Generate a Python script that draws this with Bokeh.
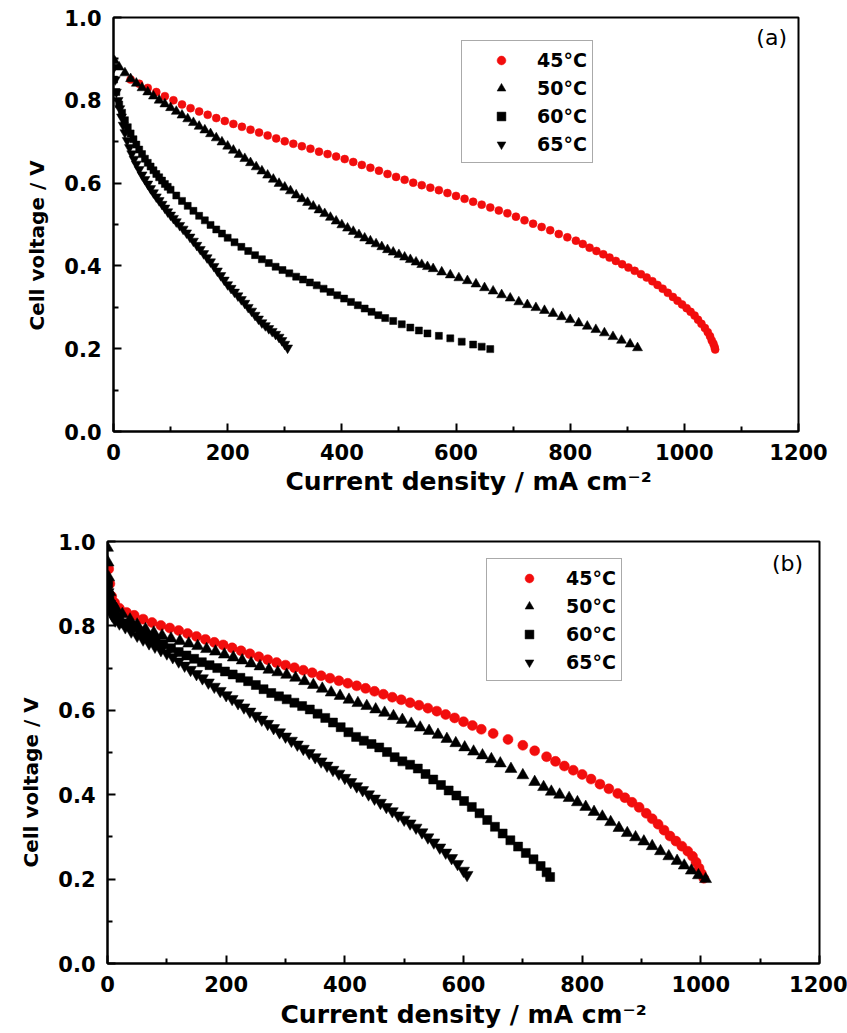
from bokeh.plotting import figure
from bokeh.layouts import column, row
from bokeh.models import Range1d, FixedTicker, PrintfTickFormatter, Label, Title, Spacer
from bokeh.embed import file_html
from bokeh.resources import INLINE

# ---------------- data ----------------
series_labels = ["45°C", "50°C", "60°C", "65°C"]
x_ticks = [0, 200, 400, 600, 800, 1000, 1200]
y_ticks = [0.0, 0.2, 0.4, 0.6, 0.8, 1.0]

# Panel (a)
a45_x = [30, 45, 60, 75, 90, 105, 120, 135, 150, 165, 180, 195, 210, 225, 240, 255, 270, 285, 300, 315,
         330, 345, 360, 375, 390, 405, 420, 435, 450, 465, 480, 495, 510, 525, 540, 555, 570, 585, 600, 615,
         630, 645, 660, 675, 690, 705, 720, 735, 750, 765, 780, 795, 810, 822, 834, 846, 858, 869, 880, 891,
         902, 913, 924, 934, 944, 953, 962, 971, 980, 988, 996, 1004, 1011, 1018, 1024, 1030, 1036, 1041,
         1045, 1048, 1051, 1053, 1054]
a45_y = [0.850, 0.840, 0.830, 0.820, 0.810, 0.800, 0.790, 0.781, 0.773, 0.765, 0.757, 0.750, 0.743, 0.736,
         0.729, 0.722, 0.715, 0.708, 0.701, 0.695, 0.689, 0.683, 0.676, 0.670, 0.664, 0.658, 0.651, 0.644,
         0.637, 0.630, 0.622, 0.615, 0.608, 0.601, 0.595, 0.589, 0.583, 0.576, 0.569, 0.562, 0.555, 0.548,
         0.541, 0.534, 0.527, 0.519, 0.510, 0.502, 0.494, 0.486, 0.477, 0.469, 0.461, 0.453, 0.444, 0.436,
         0.428, 0.420, 0.412, 0.404, 0.396, 0.388, 0.380, 0.372, 0.363, 0.354, 0.345, 0.335, 0.325, 0.316,
         0.307, 0.298, 0.289, 0.280, 0.270, 0.260, 0.250, 0.240, 0.230, 0.220, 0.212, 0.204, 0.198]

a50_x = [2, 10, 20, 30, 40, 50, 60, 70, 80, 90, 100, 110, 120, 130, 140, 150, 160, 170, 180, 190, 200,
         210, 220, 230, 240, 250, 260, 270, 280, 290, 300, 310, 320, 330, 340, 350, 360, 370, 380, 390, 400,
         410, 420, 430, 440, 450, 460, 470, 480, 490, 500, 510, 520, 530, 540, 550, 560, 575, 590, 605, 620,
         635, 650, 665, 680, 695, 710, 725, 740, 755, 770, 785, 800, 815, 830, 845, 860, 875, 890, 905, 918]
a50_y = [0.895, 0.880, 0.866, 0.852, 0.841, 0.830, 0.820, 0.810, 0.800, 0.791, 0.782, 0.773, 0.764, 0.755,
         0.746, 0.737, 0.728, 0.719, 0.709, 0.699, 0.689, 0.679, 0.669, 0.659, 0.649, 0.639, 0.629, 0.619,
         0.609, 0.599, 0.590, 0.581, 0.571, 0.562, 0.553, 0.544, 0.535, 0.526, 0.517, 0.508, 0.499, 0.491,
         0.483, 0.475, 0.467, 0.460, 0.453, 0.446, 0.439, 0.433, 0.427, 0.421, 0.415, 0.409, 0.403, 0.398,
         0.393, 0.385, 0.378, 0.371, 0.364, 0.356, 0.347, 0.339, 0.330, 0.322, 0.313, 0.306, 0.299, 0.292,
         0.285, 0.277, 0.270, 0.262, 0.254, 0.246, 0.238, 0.229, 0.220, 0.211, 0.202]

a60_x = [1, 5, 10, 15, 20, 25, 30, 35, 40, 45, 50, 55, 60, 65, 70, 75, 80, 85, 90, 95, 100, 110, 120, 130,
         140, 150, 160, 170, 180, 190, 200, 212, 224, 236, 248, 260, 272, 284, 296, 308, 320, 332, 344, 356,
         368, 380, 392, 404, 416, 428, 440, 452, 464, 476, 490, 505, 520, 535, 550, 570, 590, 610, 630, 645, 660]
a60_y = [0.850, 0.820, 0.790, 0.770, 0.752, 0.735, 0.720, 0.706, 0.693, 0.681, 0.670, 0.659, 0.649, 0.640,
         0.631, 0.622, 0.614, 0.606, 0.598, 0.591, 0.584, 0.570, 0.557, 0.545, 0.533, 0.521, 0.510, 0.499,
         0.488, 0.478, 0.468, 0.457, 0.446, 0.436, 0.426, 0.416, 0.407, 0.398, 0.390, 0.382, 0.374, 0.367,
         0.360, 0.353, 0.345, 0.337, 0.329, 0.321, 0.313, 0.305, 0.297, 0.289, 0.281, 0.274, 0.267, 0.259,
         0.251, 0.244, 0.237, 0.231, 0.225, 0.217, 0.210, 0.205, 0.199]

a65_x = [1, 3, 5, 8, 11, 14, 17, 20, 24, 28, 32, 36, 40, 45, 50, 55, 60, 65, 70, 75, 80, 85, 90, 95, 100,
         105, 110, 116, 122, 128, 134, 140, 146, 152, 158, 164, 170, 176, 182, 188, 194, 200, 206, 212, 218,
         224, 230, 236, 242, 248, 254, 260, 266, 272, 278, 284, 290, 295, 300, 305]
a65_y = [0.880, 0.850, 0.820, 0.800, 0.780, 0.760, 0.740, 0.722, 0.703, 0.686, 0.671, 0.658, 0.646, 0.633,
         0.620, 0.609, 0.598, 0.587, 0.577, 0.567, 0.558, 0.549, 0.540, 0.531, 0.523, 0.515, 0.507, 0.498,
         0.489, 0.480, 0.470, 0.460, 0.450, 0.440, 0.430, 0.420, 0.410, 0.399, 0.388, 0.377, 0.366, 0.355,
         0.346, 0.337, 0.328, 0.319, 0.310, 0.300, 0.291, 0.281, 0.272, 0.263, 0.256, 0.249, 0.242, 0.235,
         0.228, 0.220, 0.211, 0.202]

# Panel (b)
b45_x = [2, 4, 7, 12, 20, 32, 45, 60, 75, 90, 105, 120, 135, 150, 165, 180, 195, 210, 225, 240, 255, 270,
         285, 300, 315, 330, 345, 360, 375, 390, 405, 420, 435, 450, 465, 480, 495, 510, 525, 540, 555, 570,
         585, 600, 615, 630, 650, 675, 700, 720, 740, 755, 770, 785, 800, 815, 830, 845, 860, 872, 884, 896,
         908, 918, 928, 938, 948, 958, 968, 978, 986, 992, 997, 1001, 1005]
b45_y = [0.935, 0.900, 0.870, 0.855, 0.842, 0.832, 0.825, 0.816, 0.808, 0.801, 0.795, 0.789, 0.782, 0.775,
         0.768, 0.761, 0.755, 0.748, 0.741, 0.734, 0.727, 0.720, 0.713, 0.707, 0.701, 0.695, 0.689, 0.682,
         0.676, 0.670, 0.664, 0.658, 0.652, 0.645, 0.638, 0.631, 0.625, 0.618, 0.612, 0.605, 0.598, 0.590,
         0.582, 0.573, 0.564, 0.555, 0.545, 0.531, 0.517, 0.504, 0.490, 0.479, 0.468, 0.458, 0.448, 0.437,
         0.425, 0.414, 0.403, 0.393, 0.382, 0.370, 0.356, 0.343, 0.330, 0.316, 0.302, 0.290, 0.278, 0.266,
         0.254, 0.240, 0.226, 0.213, 0.202]

b50_x = [0, 1, 2, 4, 8, 15, 25, 38, 50, 64, 78, 92, 107, 122, 137, 152, 167, 182, 197, 212, 227, 242, 257,
         272, 287, 302, 317, 332, 347, 362, 377, 392, 407, 422, 437, 452, 467, 482, 497, 512, 527, 542, 557,
         572, 587, 602, 617, 632, 647, 662, 680, 700, 720, 735, 748, 762, 778, 792, 806, 820, 834, 848, 862,
         876, 890, 904, 918, 932, 946, 960, 972, 984, 996, 1008]
b50_y = [0.985, 0.950, 0.915, 0.880, 0.855, 0.840, 0.828, 0.815, 0.803, 0.792, 0.784, 0.777, 0.770, 0.764,
         0.758, 0.752, 0.745, 0.739, 0.732, 0.725, 0.718, 0.711, 0.704, 0.696, 0.690, 0.684, 0.677, 0.669,
         0.660, 0.651, 0.642, 0.634, 0.625, 0.617, 0.610, 0.602, 0.594, 0.586, 0.577, 0.568, 0.559, 0.551,
         0.542, 0.532, 0.522, 0.512, 0.502, 0.493, 0.484, 0.474, 0.461, 0.446, 0.430, 0.418, 0.407, 0.400,
         0.392, 0.382, 0.371, 0.359, 0.348, 0.335, 0.321, 0.309, 0.299, 0.289, 0.278, 0.266, 0.254, 0.243,
         0.232, 0.220, 0.209, 0.200]

b60_x = [1, 3, 6, 12, 20, 30, 42, 55, 68, 81, 94, 107, 120, 133, 146, 159, 172, 185, 198, 211, 224, 237,
         250, 263, 276, 289, 302, 315, 328, 341, 354, 367, 380, 393, 406, 419, 432, 445, 458, 471, 484, 497,
         510, 523, 536, 549, 562, 575, 588, 601, 614, 627, 640, 653, 666, 679, 692, 705, 718, 730, 740, 746]
b60_y = [0.900, 0.870, 0.850, 0.830, 0.817, 0.806, 0.797, 0.787, 0.776, 0.766, 0.757, 0.747, 0.738, 0.730,
         0.722, 0.714, 0.707, 0.700, 0.692, 0.685, 0.677, 0.669, 0.660, 0.650, 0.641, 0.633, 0.626, 0.618,
         0.610, 0.602, 0.592, 0.582, 0.571, 0.560, 0.548, 0.537, 0.528, 0.520, 0.512, 0.501, 0.489, 0.479,
         0.471, 0.462, 0.449, 0.436, 0.423, 0.410, 0.398, 0.385, 0.371, 0.356, 0.340, 0.324, 0.308, 0.292,
         0.277, 0.262, 0.247, 0.231, 0.216, 0.205]

b65_x = [1, 4, 8, 13, 20, 30, 40, 50, 60, 70, 80, 90, 100, 110, 120, 130, 140, 150, 160, 170, 180, 190,
         200, 210, 220, 230, 240, 250, 260, 270, 280, 290, 300, 310, 320, 330, 340, 350, 360, 370, 380, 390,
         400, 410, 420, 430, 440, 450, 460, 470, 480, 490, 500, 510, 520, 530, 540, 550, 560, 570, 580, 590,
         600, 606]
b65_y = [0.880, 0.840, 0.825, 0.813, 0.806, 0.797, 0.787, 0.777, 0.768, 0.759, 0.751, 0.743, 0.735, 0.726,
         0.716, 0.706, 0.696, 0.686, 0.676, 0.666, 0.656, 0.646, 0.636, 0.627, 0.617, 0.607, 0.597, 0.587,
         0.578, 0.568, 0.558, 0.548, 0.538, 0.528, 0.519, 0.509, 0.499, 0.489, 0.479, 0.469, 0.459, 0.450,
         0.440, 0.430, 0.420, 0.411, 0.401, 0.391, 0.381, 0.371, 0.361, 0.351, 0.341, 0.332, 0.322, 0.311,
         0.299, 0.287, 0.275, 0.263, 0.250, 0.236, 0.220, 0.210]

# ---------------- styling ----------------
FONT = "DejaVu Sans"
RED = "#f20d0d"
BLACK = "#000000"


def make_panel(data, tag, width, height, borders, legend_loc, legend_glyph_w, legend_standoff, sizes,
               xlab, ylab, tag_pos):
    left, right, top, bottom = borders
    p = figure(width=width, height=height, output_backend="svg", toolbar_location=None,
               x_range=Range1d(0, 1200), y_range=Range1d(0, 1.0),
               min_border_left=left, min_border_right=right,
               min_border_top=top, min_border_bottom=bottom)
    p.background_fill_color = "white"
    p.border_fill_color = "white"
    p.outline_line_color = BLACK
    p.outline_line_width = 2
    p.grid.visible = False

    markers = ["circle", "triangle", "square", "inverted_triangle"]
    colors = [RED, BLACK, BLACK, BLACK]
    for (xs, ys), lab, mk, col, sz in zip(data, series_labels, markers, colors, sizes):
        p.scatter(xs, ys, marker=mk, size=sz, fill_color=col, line_color=col,
                  line_width=0.5, legend_label=lab)

    # axes
    p.xaxis.ticker = FixedTicker(ticks=x_ticks, minor_ticks=[100, 300, 500, 700, 900, 1100])
    p.yaxis.ticker = FixedTicker(ticks=y_ticks, minor_ticks=[0.1, 0.3, 0.5, 0.7, 0.9])
    p.yaxis.formatter = PrintfTickFormatter(format="%.1f")
    for ax in (p.xaxis[0], p.yaxis[0]):
        ax.axis_line_width = 2
        ax.axis_line_color = BLACK
        ax.major_tick_in = 8
        ax.major_tick_out = 0
        ax.minor_tick_in = 5
        ax.minor_tick_out = 0
        ax.major_tick_line_width = 2
        ax.minor_tick_line_width = 2
        ax.major_tick_line_color = BLACK
        ax.minor_tick_line_color = BLACK
        ax.major_label_text_font = FONT
        ax.major_label_text_font_style = "bold"
        ax.major_label_text_font_size = "21px"
        ax.major_label_text_color = BLACK
        ax.major_label_standoff = 12

    # axis titles as side-panel titles (offset from frame edge)
    p.add_layout(Title(text="Current density / mA cm⁻²", align="left", offset=xlab[0],
                       standoff=xlab[1], vertical_align="middle",
                       text_font=FONT, text_font_style="bold", text_font_size="25px",
                       text_color=BLACK), "below")
    p.add_layout(Title(text="Cell voltage / V", align="left", offset=ylab[0],
                       standoff=ylab[1], vertical_align="middle",
                       text_font=FONT, text_font_style="bold", text_font_size="20px",
                       text_color=BLACK), "left")
    p.add_layout(Label(x=tag_pos[0], y=tag_pos[1], text=tag, text_font=FONT,
                       text_font_size="22px", text_align="center", text_baseline="middle",
                       text_color=BLACK))

    lg = p.legend[0]
    lg.location = legend_loc
    lg.margin = 0
    lg.padding = 5
    lg.spacing = 1
    lg.glyph_width = legend_glyph_w
    lg.glyph_height = 22
    lg.label_height = 27
    lg.label_standoff = legend_standoff
    lg.label_text_font = FONT
    lg.label_text_font_style = "bold"
    lg.label_text_font_size = "19px"
    lg.label_text_color = BLACK
    lg.border_line_color = "#555555"
    lg.border_line_width = 1.5
    lg.background_fill_color = "white"
    lg.background_fill_alpha = 1.0
    return p


pa = make_panel([(a45_x, a45_y), (a50_x, a50_y), (a60_x, a60_y), (a65_x, a65_y)], "(a)",
                841, 510, (107, 49, 17, 79), (348, 268), 68, 2, [8, 10, 7, 10],
                (172, 6), (101, 23), (1153, 0.952))
pb = make_panel([(b45_x, b45_y), (b50_x, b50_y), (b60_x, b60_y), (b65_x, b65_y)], "(b)",
                847, 523, (107, 28, 31, 69), (379, 282), 74, 0, [10, 12, 9, 12],
                (173, 8), (96, 23), (1146, 0.948))

layout = column(row(Spacer(width=6, height=510), pa, spacing=0), pb, spacing=0)
open("out.html", "w").write(file_html(layout, INLINE))
